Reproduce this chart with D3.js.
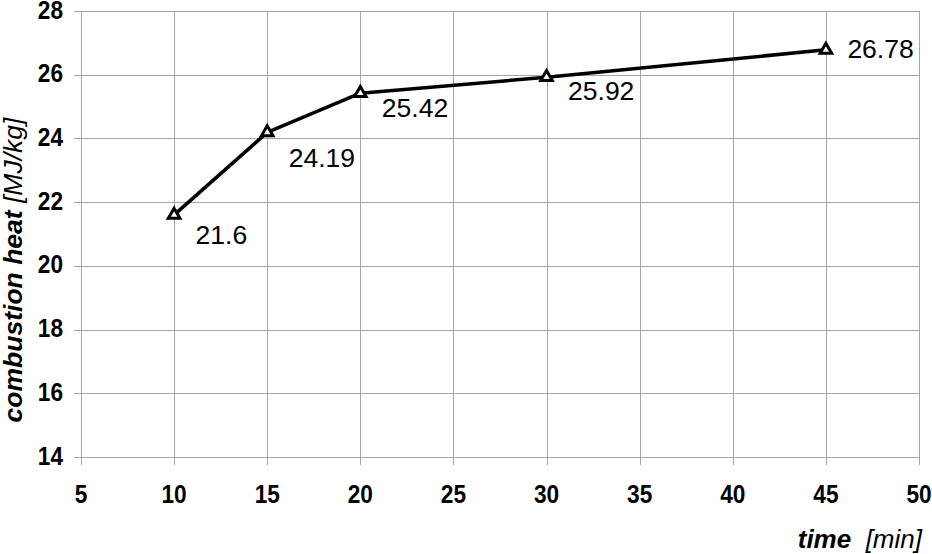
<!DOCTYPE html>
<html>
<head>
<meta charset="utf-8">
<script src="https://cdn.jsdelivr.net/npm/d3@7"></script>
<style>
  html, body { margin: 0; padding: 0; background: #fff; }
  svg { display: block; }
  text { font-family: "Liberation Sans", Arial, sans-serif; fill: #000; }
</style>
</head>
<body>
<svg id="chart" width="932" height="554"></svg>
<script>
// ---- data ----
const times = [10, 15, 20, 30, 45];
const heatValues = [21.6, 24.19, 25.42, 25.92, 26.78];
const valueLabels = ["21.6", "24.19", "25.42", "25.92", "26.78"];
const xTicks = [5, 10, 15, 20, 25, 30, 35, 40, 45, 50];
const yTicks = [14, 16, 18, 20, 22, 24, 26, 28];
const xTitleBold = "time";
const xTitleUnit = "[min]";
const yTitleBold = "combustion heat";
const yTitleUnit = "[MJ/kg]";

(function () {
// ---- layout ----
const pLeft = 81, pRight = 919, pTop = 11, pBottom = 457;
const svg = d3.select("#chart");

const x = d3.scaleLinear().domain([5, 50]).range([pLeft, pRight]);
const y = d3.scaleLinear().domain([14, 28]).range([pBottom, pTop]);

const gridColor = "#a6a6a6";

// horizontal gridlines (extend left as tick marks)
svg.append("g").selectAll("line").data(yTicks).join("line")
  .attr("x1", pLeft - 7).attr("x2", pRight)
  .attr("y1", d => Math.round(y(d)) + 0.5).attr("y2", d => Math.round(y(d)) + 0.5)
  .attr("stroke", gridColor).attr("stroke-width", 1);

// vertical gridlines (extend down as tick marks)
svg.append("g").selectAll("line").data(xTicks).join("line")
  .attr("y1", pTop).attr("y2", pBottom + 8)
  .attr("x1", d => Math.round(x(d)) + 0.5).attr("x2", d => Math.round(x(d)) + 0.5)
  .attr("stroke", gridColor).attr("stroke-width", 1);

// y tick labels (bold, slightly condensed)
svg.append("g").selectAll("text").data(yTicks).join("text")
  .attr("transform", d => `translate(${63},${y(d) + 7.5}) scale(0.87,1)`)
  .attr("text-anchor", "end")
  .attr("font-size", 26).attr("font-weight", "bold")
  .text(d => d);

// x tick labels
svg.append("g").selectAll("text").data(xTicks).join("text")
  .attr("transform", d => `translate(${x(d)},${503}) scale(0.87,1)`)
  .attr("text-anchor", "middle")
  .attr("font-size", 26).attr("font-weight", "bold")
  .text(d => d);

// line
const pts = times.map((t, i) => [t, heatValues[i]]);
svg.append("path")
  .datum(pts)
  .attr("fill", "none").attr("stroke", "#000").attr("stroke-width", 3.5)
  .attr("stroke-linejoin", "round")
  .attr("d", d3.line().x(d => x(d[0])).y(d => y(d[1])));

// markers
svg.append("g").selectAll("path").data(pts).join("path")
  .attr("transform", d => `translate(${x(d[0])},${y(d[1])})`)
  .attr("d", d3.symbol(d3.symbolTriangle).size(58))
  .attr("fill", "#fff").attr("stroke", "#000").attr("stroke-width", 3);

// value labels
const labelDy = [29, 34.5, 24, 23, 8];
svg.append("g").selectAll("text").data(pts).join("text")
  .attr("x", d => x(d[0]) + 21.5)
  .attr("y", (d, i) => y(d[1]) + labelDy[i])
  .attr("font-size", 26.5)
  .text((d, i) => valueLabels[i]);

// x title
const xt = svg.append("text")
  .attr("x", 922).attr("y", 548)
  .attr("text-anchor", "end")
  .attr("font-size", 26).attr("font-style", "italic");
xt.append("tspan").attr("font-weight", "bold").text(xTitleBold);
xt.append("tspan").text("\u00a0 " + xTitleUnit);

// y title
const yt = svg.append("text")
  .attr("transform", `translate(22,270) rotate(-90)`)
  .attr("text-anchor", "middle")
  .attr("font-size", 26.5).attr("font-style", "italic");
yt.append("tspan").attr("font-weight", "bold").text(yTitleBold);
yt.append("tspan").text("\u00a0" + yTitleUnit);
})();
</script>
</body>
</html>
